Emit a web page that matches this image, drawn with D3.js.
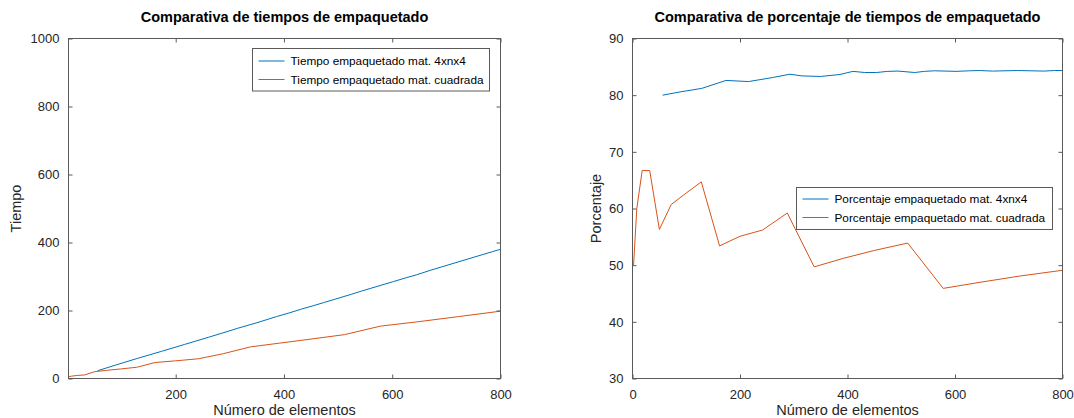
<!DOCTYPE html>
<html>
<head>
<meta charset="utf-8">
<script src="https://cdn.jsdelivr.net/npm/d3@7"></script>
<style>
  html, body { margin: 0; padding: 0; background: #fff; }
  svg { display: block; font-family: "Liberation Sans", Arial, sans-serif; }
  .tick text { fill: #262626; font-size: 13px; }
</style>
</head>
<body>
<svg id="chart" width="1074" height="418"></svg>
<script>
// Number of elements for the square matrices (2·n², n = 1..20)
const sizesCuad = [2, 8, 18, 32, 50, 72, 98, 128, 162, 200, 242, 288, 338, 392, 450, 512, 578, 648, 722, 800];
// Number of elements for the 4xnx4 matrices
const sizes4n4 = [56, 90, 129, 174, 216, 260, 293, 315, 350, 386, 410, 432, 454, 475, 494, 525, 543, 562, 602, 627, 645, 670, 716, 766, 785, 800];

// Packing time
const tiempo4n4 = [23, 40, 59, 80, 100, 121, 137, 148, 164, 182, 193, 204, 214, 224, 233, 248, 257, 266, 285, 297, 305, 318, 340, 364, 373, 380];
const tiempoCuad = [5, 7, 9, 10.5, 20, 24, 28, 33, 47, 52, 58, 73, 93, 104, 116, 129, 154, 167, 182, 198];

// Packing time as a percentage of the total
const pct4n4 = [80.0, 80.6, 81.2, 82.6, 82.4, 83.1, 83.7, 83.4, 83.3, 83.65, 84.2, 84.0, 84.0, 84.2, 84.25, 84.0, 84.2, 84.3, 84.2, 84.3, 84.35, 84.25, 84.35, 84.25, 84.35, 84.35];
const pctCuad = [50.0, 60.0, 66.7, 66.7, 56.3, 60.7, 62.6, 64.7, 53.4, 55.1, 56.2, 59.2, 49.7, 51.2, 52.6, 53.9, 45.9, 47.0, 48.1, 49.1];

const xTicksL = [200, 400, 600, 800];
const yTicksL = [0, 200, 400, 600, 800, 1000];
const xTicksR = [0, 200, 400, 600, 800];
const yTicksR = [30, 40, 50, 60, 70, 80, 90];

const COLOR_BLUE = "#0072BD";
const COLOR_ORANGE = "#D95319";
const AXIS_COLOR = "#5a5a5a";

const svg = d3.select("#chart");

function panel(opts) {
  const { x0, x1, y0, y1, xDomain, yDomain, xTicks, yTicks, title, xLabel, yLabel, yLabelX, series, legend } = opts;
  const x = d3.scaleLinear().domain(xDomain).range([x0, x1]);
  const y = d3.scaleLinear().domain(yDomain).range([y1, y0]);
  const g = svg.append("g");

  // series lines
  const line = d3.line().x(d => x(d[0])).y(d => y(d[1]));
  series.forEach(s => {
    g.append("path")
      .datum(s.xs.map((v, i) => [v, s.ys[i]]))
      .attr("fill", "none")
      .attr("stroke", s.color)
      .attr("stroke-width", 1)
      .attr("d", line);
  });

  // axes with inward ticks on all four sides
  const styleAxis = sel => {
    sel.select(".domain").remove();
    sel.selectAll(".tick line").attr("stroke", AXIS_COLOR);
  };
  g.append("g").attr("transform", `translate(0,${y1})`)
    .call(d3.axisBottom(x).tickValues(xTicks).tickSize(-4).tickPadding(11).tickFormat(d3.format("d")))
    .call(styleAxis);
  g.append("g").attr("transform", `translate(0,${y0})`)
    .call(d3.axisTop(x).tickValues(xTicks).tickSize(-4).tickFormat(""))
    .call(styleAxis);
  g.append("g").attr("transform", `translate(${x0},0)`)
    .call(d3.axisLeft(y).tickValues(yTicks).tickSize(-4).tickPadding(9).tickFormat(d3.format("d")))
    .call(styleAxis);
  g.append("g").attr("transform", `translate(${x1},0)`)
    .call(d3.axisRight(y).tickValues(yTicks).tickSize(-4).tickFormat(""))
    .call(styleAxis);
  g.selectAll(".tick text").attr("font-family", "Liberation Sans, Arial, sans-serif").attr("font-size", 13).attr("fill", "#262626");

  // plot box
  g.append("rect")
    .attr("x", x0).attr("y", y0)
    .attr("width", x1 - x0).attr("height", y1 - y0)
    .attr("fill", "none").attr("stroke", AXIS_COLOR).attr("stroke-width", 1);

  // title and axis labels
  g.append("text")
    .attr("x", (x0 + x1) / 2).attr("y", 22)
    .attr("text-anchor", "middle")
    .attr("font-weight", "bold").attr("font-size", 14.5)
    .attr("fill", "#000")
    .text(title);
  g.append("text")
    .attr("x", (x0 + x1) / 2).attr("y", 415)
    .attr("text-anchor", "middle")
    .attr("font-size", 14.5).attr("fill", "#262626")
    .text(xLabel);
  g.append("text")
    .attr("transform", `translate(${yLabelX},${(y0 + y1) / 2}) rotate(-90)`)
    .attr("text-anchor", "middle")
    .attr("font-size", 14.5).attr("fill", "#262626")
    .text(yLabel);

  // legend
  const lg = g.append("g");
  lg.append("rect")
    .attr("x", legend.x).attr("y", legend.y)
    .attr("width", legend.w).attr("height", legend.h)
    .attr("fill", "#fff").attr("stroke", AXIS_COLOR).attr("stroke-width", 1);
  series.forEach((s, i) => {
    const ry = legend.y + legend.rowY[i];
    lg.append("line")
      .attr("x1", legend.x + 6).attr("x2", legend.x + 32)
      .attr("y1", ry).attr("y2", ry)
      .attr("stroke", s.color).attr("stroke-width", 1);
    lg.append("text")
      .attr("x", legend.x + 38).attr("y", ry)
      .attr("dy", "0.35em")
      .attr("font-size", 11.8).attr("fill", "#000")
      .text(s.name);
  });
}

panel({
  x0: 68.5, x1: 500.5, y0: 38.5, y1: 378.5,
  xDomain: [2, 800], yDomain: [0, 1000],
  xTicks: xTicksL, yTicks: yTicksL,
  title: "Comparativa de tiempos de empaquetado",
  xLabel: "Número de elementos", yLabel: "Tiempo", yLabelX: 21,
  series: [
    { name: "Tiempo empaquetado mat. 4xnx4", xs: sizes4n4, ys: tiempo4n4, color: COLOR_BLUE },
    { name: "Tiempo empaquetado mat. cuadrada", xs: sizesCuad, ys: tiempoCuad, color: COLOR_ORANGE }
  ],
  legend: { x: 252.5, y: 48.5, w: 237, h: 42.5, rowY: [12.5, 31] }
});

panel({
  x0: 632.5, x1: 1062.5, y0: 38.5, y1: 378.5,
  xDomain: [0, 800], yDomain: [30, 90],
  xTicks: xTicksR, yTicks: yTicksR,
  title: "Comparativa de porcentaje de tiempos de empaquetado",
  xLabel: "Número de elementos", yLabel: "Porcentaje", yLabelX: 601,
  series: [
    { name: "Porcentaje empaquetado mat. 4xnx4", xs: sizes4n4, ys: pct4n4, color: COLOR_BLUE },
    { name: "Porcentaje empaquetado mat. cuadrada", xs: sizesCuad, ys: pctCuad, color: COLOR_ORANGE }
  ],
  legend: { x: 796.5, y: 187.5, w: 256, h: 42, rowY: [11.5, 30] }
});
</script>
</body>
</html>
